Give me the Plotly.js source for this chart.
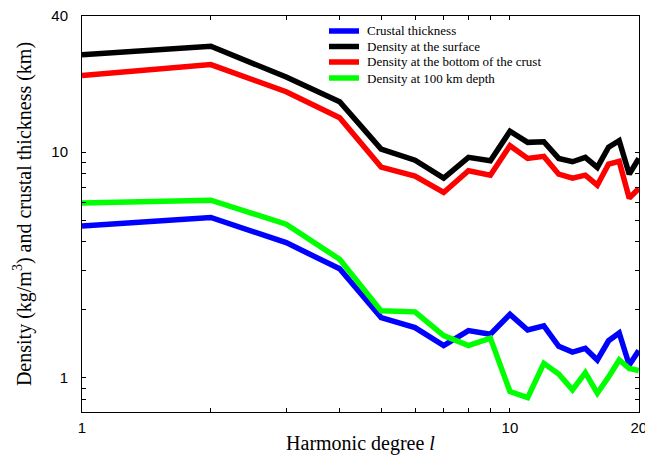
<!DOCTYPE html>
<html>
<head>
<meta charset="utf-8">
<script src="https://cdn.plot.ly/plotly-3.0.1.min.js"></script>
<style>html,body{margin:0;padding:0;background:#fff;}#chart{width:645px;height:458px;}</style>
</head>
<body>
<div id="chart"></div>
<script>
const degrees = [1,2,3,4,5,6,7,8,9,10,11,12,13,14,15,16,17,18,19,20];
const crustalThickness = [4.70,5.13,3.97,3.04,1.85,1.67,1.39,1.62,1.56,1.91,1.63,1.70,1.38,1.30,1.35,1.20,1.46,1.58,1.14,1.32];
const densitySurface = [27.0,29.4,21.5,16.7,10.3,9.2,7.66,9.47,9.15,12.36,11.04,11.11,9.37,9.06,9.47,8.55,10.5,11.23,7.98,9.37];
const densityBottomCrust = [21.8,24.4,18.5,14.2,8.58,7.82,6.62,8.26,7.9,10.67,9.37,9.57,7.98,7.66,7.9,7.13,8.85,9.09,6.25,6.9];
const density100km = [5.95,6.12,4.79,3.35,1.98,1.96,1.54,1.39,1.50,0.87,0.818,1.16,1.04,0.885,1.055,0.855,1.01,1.20,1.10,1.077];
const seriesNames = ["Crustal thickness","Density at the surface","Density at the bottom of the crust","Density at 100 km depth"];
const seriesColors = ["#0000ff","#000000","#ff0000","#00ff00"];
const xTickVals = [1,2,3,4,5,6,7,8,9,10,20];
const xTickText = ["1","","","","","","","","","10","20"];
const yTickVals = [0.8,0.9,1,2,3,4,5,6,7,8,9,10,40];
const yTickText = ["","","1","","","","","","","","","10","40"];

const serif = 'Liberation Serif, Times New Roman, serif';
const sans = 'Liberation Sans, Arial, sans-serif';
const xRange = [0, Math.log10(20) + 0.0005];
const yRange = [Math.log10(0.706), Math.log10(40) + 0.0005];

const allSeries = [crustalThickness, densitySurface, densityBottomCrust, density100km];
const traces = allSeries.map((vals, i) => ({
  x: degrees, y: vals, type: 'scatter', mode: 'lines', name: seriesNames[i],
  line: {color: seriesColors[i], width: 5.5, shape: 'linear'}, showlegend: false
}));

const axisCommon = {
  showline: true, linecolor: '#000', linewidth: 1, mirror: 'allticks',
  ticks: 'inside', ticklen: 4, tickcolor: '#000', tickwidth: 1,
  showgrid: false, zeroline: false, type: 'log', tickmode: 'array',
  tickfont: {family: sans, size: 15, color: '#000'}, ticklabeloverflow: 'allow'
};

// manual legend (pixel positions converted to paper fractions)
const plotL = 82, plotW = 557, plotB = 412, plotH = 396;
const px = v => (v - plotL) / plotW;
const py = v => (plotB - v) / plotH;
const legendRows = [31, 46.5, 62, 78];
const shapes = [], annotations = [];
seriesNames.forEach((name, i) => {
  shapes.push({type: 'line', xref: 'paper', yref: 'paper',
    x0: px(329), x1: px(359), y0: py(legendRows[i]), y1: py(legendRows[i]),
    line: {color: seriesColors[i], width: 5.5}});
  annotations.push({xref: 'paper', yref: 'paper', x: px(365), y: py(legendRows[i]),
    xanchor: 'left', yanchor: 'middle', showarrow: false, text: name,
    font: {family: serif, size: 13, color: '#000'}});
});

const layout = {
  width: 645, height: 458,
  margin: {l: 82, r: 6, t: 16, b: 46},
  paper_bgcolor: '#fff', plot_bgcolor: '#fff',
  showlegend: false,
  shapes: shapes, annotations: annotations,
  xaxis: Object.assign({}, axisCommon, {
    range: xRange, tickvals: xTickVals, ticktext: xTickText, ticklabelstandoff: 2,
    title: {text: 'Harmonic degree <i>l</i>', standoff: 0,
      font: {family: serif, size: 20, color: '#000'}}
  }),
  yaxis: Object.assign({}, axisCommon, {
    range: yRange, ticklabelstandoff: 10, tickvals: yTickVals, ticktext: yTickText,
    title: {text: 'Density (kg/m<sup>3</sup>) and crustal thickness (km)', standoff: 14,
      font: {family: serif, size: 20, color: '#000'}}
  })
};

Plotly.newPlot('chart', traces, layout, {displayModeBar: false, staticPlot: true});
</script>
</body>
</html>
